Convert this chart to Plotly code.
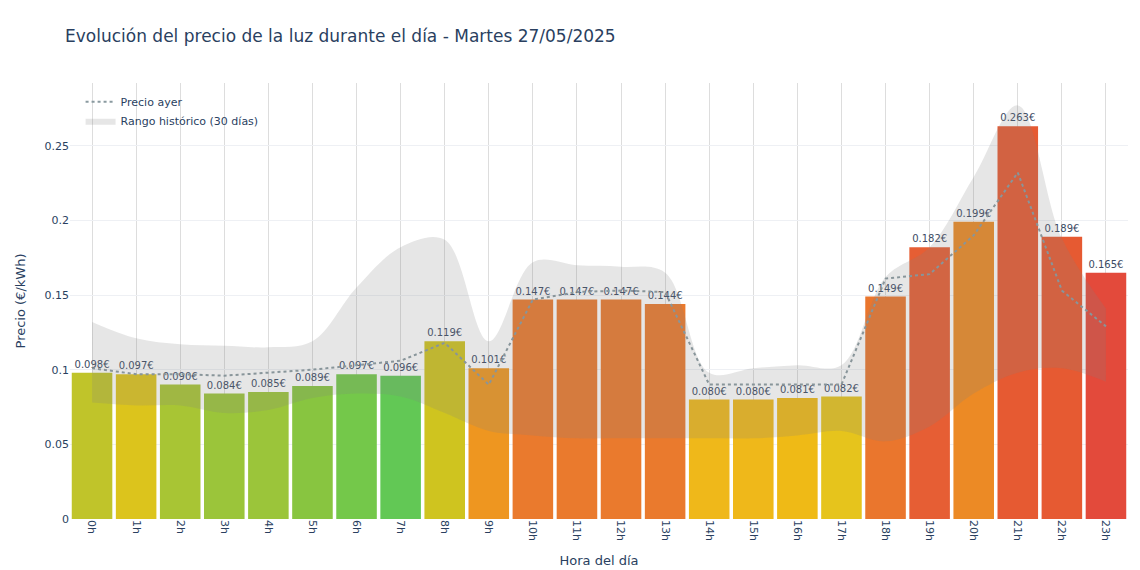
import plotly.graph_objects as go

horas = [f"{h}h" for h in range(24)]
precio_hoy = [0.098, 0.097, 0.090, 0.084, 0.085, 0.089, 0.097, 0.096, 0.119, 0.101, 0.147, 0.147,
              0.147, 0.144, 0.080, 0.080, 0.081, 0.082, 0.149, 0.182, 0.199, 0.263, 0.189, 0.165]
precio_ayer = [0.101, 0.097, 0.097, 0.096, 0.098, 0.100, 0.103, 0.106, 0.118, 0.090, 0.147, 0.152,
               0.153, 0.152, 0.090, 0.090, 0.090, 0.090, 0.161, 0.164, 0.190, 0.232, 0.153, 0.129]
rango_max = [0.132, 0.121, 0.117, 0.116, 0.115, 0.119, 0.155, 0.182, 0.187, 0.119, 0.172, 0.170,
             0.169, 0.165, 0.098, 0.101, 0.103, 0.103, 0.162, 0.182, 0.229, 0.277, 0.188, 0.141]
rango_min = [0.078, 0.076, 0.076, 0.071, 0.073, 0.081, 0.084, 0.082, 0.071, 0.059, 0.056, 0.054,
             0.054, 0.054, 0.054, 0.054, 0.056, 0.059, 0.052, 0.062, 0.084, 0.098, 0.101, 0.092]
colores = ["#c0c42a", "#dcc41c", "#a8c534", "#9bc53a", "#9bc53a", "#88c540", "#74c84a", "#62c855",
           "#cfc41f", "#ee9620", "#ea7a2d", "#ea7a2d", "#ea7a2d", "#ea7a2d", "#efb81a", "#efb81a",
           "#efba16", "#e6c41c", "#ea762d", "#e65e34", "#ec8a25", "#e65a32", "#e65a32", "#e34a3b"]
etiquetas = [f"{v:.3f}€" for v in precio_hoy]

fig = go.Figure()
fig.add_trace(go.Bar(x=horas, y=precio_hoy, marker=dict(color=colores, line=dict(width=0)),
                     text=etiquetas, textposition="outside", textfont=dict(size=10, color="#3b4a63"),
                     cliponaxis=False, showlegend=False))
fig.add_trace(go.Scatter(x=horas, y=precio_ayer, mode="lines", name="Precio ayer", legendrank=1,
                         line=dict(color="#8a9aa0", width=2, dash="dot")))
fig.add_trace(go.Scatter(x=horas, y=rango_min, mode="lines", line=dict(width=0, shape="spline"),
                         showlegend=False, hoverinfo="skip"))
fig.add_trace(go.Scatter(x=horas, y=rango_max, mode="lines", legendrank=2,
                         line=dict(width=0, shape="spline", color="rgba(128,128,128,0.2)"),
                         fill="tonexty", fillcolor="rgba(128,128,128,0.2)", name="Rango histórico (30 días)"))

fig.update_layout(
    width=1140, height=570,
    title=dict(text="Evolución del precio de la luz durante el día - Martes 27/05/2025", x=0.05, y=0.962,
               font=dict(size=17, color="#2a3f5f")),
    font=dict(family="DejaVu Sans, sans-serif", color="#2a3f5f", size=12),
    plot_bgcolor="white", paper_bgcolor="white",
    margin=dict(l=54, r=20, t=75, b=59),
    bargap=0.08,
    legend=dict(x=0.01, y=0.99, xanchor="left", yanchor="top", bgcolor="rgba(255,255,255,0)",
                font=dict(size=11), traceorder="normal"),
    xaxis=dict(title=dict(text="Hora del día", font=dict(size=13)), tickangle=90, showgrid=True,
               gridcolor="#dddddd", tickfont=dict(size=11)),
    yaxis=dict(title=dict(text="Precio (€/kWh)", font=dict(size=13)), range=[0, 0.292], dtick=0.05,
               gridcolor="#eef0f4", zeroline=False, tickfont=dict(size=11)),
)
fig.write_html("out.html")
